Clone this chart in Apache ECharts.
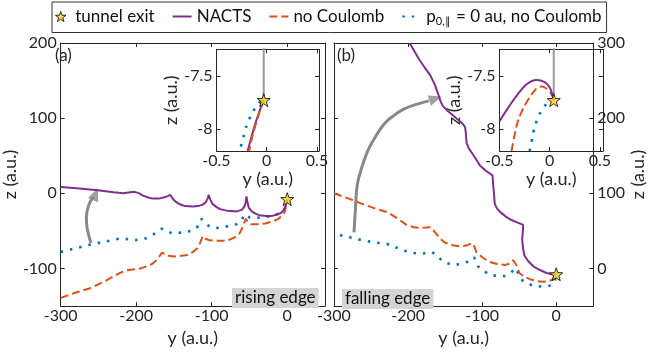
<!DOCTYPE html>
<html>
<head>
<meta charset="utf-8">
<script src="https://cdn.jsdelivr.net/npm/echarts@6/dist/echarts.min.js"></script>
<style>
  html, body { margin: 0; padding: 0; background: #fff; }
  #chart { width: 648px; height: 352px; }
</style>
</head>
<body>
<div id="chart"></div>
<script>
// ---- data: [y, z] in a.u. ----
// panel (a): rising edge
const nactsA = [[-300, 8.5], [-275, 6.5], [-251, 4.2], [-230, 1.5], [-217, 0], [-208, 1.5], [-202, 2], [-196, 0], [-191, -3], [-184, -5.5], [-178, -7], [-170, -7], [-164, -5.5], [-159, -4], [-155, -2], [-153, -5], [-150, -9], [-145, -13], [-140, -15.5], [-135, -17], [-125, -17.5], [-118, -17], [-112, -15], [-108, -12], [-105, -6], [-104, -2], [-102, -8], [-99, -14], [-94, -18], [-89, -21], [-80, -23], [-67, -24], [-60, -22], [-57, -18], [-55, -12], [-54, -4], [-53, -10], [-51, -19], [-47, -24], [-42, -27], [-37, -29], [-28, -30], [-20, -30], [-14, -28.5], [-8, -26], [-4, -21], [-1.5, -15], [0, -8]];
const noCoulA = [[-300, -139], [-280, -132], [-260, -126], [-240, -116], [-222, -106], [-210, -102], [-196, -100.5], [-186, -97], [-179, -94], [-172, -88], [-168, -82], [-166, -79], [-162, -81], [-157, -83], [-150, -84], [-140, -83], [-132, -82], [-125, -78], [-119, -73], [-115, -65], [-112, -57], [-109, -60], [-104, -62], [-95, -63], [-80, -63], [-70, -59], [-63, -53], [-59, -45], [-55, -34], [-52, -38], [-48.5, -41], [-40, -41], [-29, -40], [-18, -37], [-12, -34], [-6, -29], [-3, -24], [0, -8]];
const p0A = [[-300, -78], [-280, -73], [-260, -68], [-240, -64], [-222, -60], [-210, -61], [-200, -62], [-190, -61], [-183, -58], [-175, -53], [-170, -49], [-166, -47], [-160, -50], [-153, -53], [-148, -53], [-138, -52], [-127, -50], [-120, -46], [-116, -40], [-114, -34], [-110, -37], [-106, -42], [-101, -45], [-93, -46], [-85, -45], [-75, -43], [-67, -41], [-62, -38], [-59, -33], [-57, -28], [-54, -30], [-50, -32], [-40, -32.5], [-33, -32], [-20, -30], [-8, -26], [-3, -20], [0, -8]];
const arrowA = [[-260, -66], [-265, -46], [-266, -32], [-263, -16], [-257, -5]];
const arrowTipA = [-254, -1];

// panel (b): falling edge
const nactsB = [[-198, 300], [-192, 290], [-185, 278], [-178, 268], [-170, 257], [-164, 245], [-159, 231], [-156, 222], [-153, 216], [-148, 211], [-142, 206], [-135, 200], [-129, 195], [-125, 191], [-123, 188], [-122, 180], [-121, 167], [-118, 160], [-114, 154], [-108, 145], [-103, 137], [-95, 130], [-86, 124], [-85, 110], [-84, 100], [-83, 86], [-80, 80], [-75.5, 75], [-68, 69], [-60.5, 64.5], [-52, 61], [-44.6, 58], [-45, 50], [-46, 39], [-45, 28], [-43, 17.5], [-38, 10], [-30.5, 2.6], [-22, -2], [-13, -6], [-6, -7.5], [0, -8]];
const noCoulB = [[-300, 100], [-280, 93], [-262, 86], [-245, 80], [-228, 75], [-215, 67], [-202, 58], [-192, 55], [-185, 54], [-176, 54.5], [-170, 55], [-167, 52], [-163, 47.4], [-157, 40], [-150.6, 34.6], [-140, 31], [-129, 29.5], [-120, 31], [-114, 33.7], [-111, 30], [-107.7, 21.8], [-100, 15], [-90.5, 9], [-80, 6], [-69, 4.7], [-62, 7], [-58, 11], [-56, 13], [-53, 3], [-49.8, -6], [-43, -11], [-34.7, -14.5], [-25, -17], [-17.6, -17.5], [-10, -17], [-4.8, -14.5], [0, -8]];
const p0B = [[-292, 44.5], [-275, 40.5], [-258, 36.8], [-243, 34.5], [-228, 32.5], [-216, 28], [-206, 24], [-195, 21], [-185, 19.6], [-175, 20.5], [-168, 22], [-165.6, 23], [-160, 17], [-155, 11], [-147, 7], [-138, 4.7], [-128, 6], [-120, 9], [-114, 13], [-111, 15], [-108, 9], [-105.5, 2.6], [-98, -3], [-90.5, -8], [-80, -10], [-69, -10], [-62, -6], [-57, -2], [-54, 0.4], [-51, -8], [-47.6, -14.5], [-40, -19.5], [-30.5, -23], [-20, -24], [-13, -24], [-6, -22], [-2.6, -19], [0, -8]];
const arrowB = [[-273, 48], [-271, 80], [-268.6, 111.5], [-262, 136], [-253.5, 158.6], [-243, 177], [-232, 192.7], [-220, 203], [-206, 212], [-190, 218], [-172, 223]];
const arrowTipB = [-163, 226];

const exitMain = [0, -7.7];

// insets (zoom at the tunnel exit)
const gateA = [[-0.03, -7.2], [-0.03, -7.73]];
const nactsInA = [[-0.03, -7.73], [-0.07, -7.83], [-0.11, -7.94], [-0.15, -8.07], [-0.19, -8.21]];
const noCoulInA = [[-0.03, -7.73], [-0.065, -7.82], [-0.1, -7.93], [-0.14, -8.06], [-0.175, -8.21]];
const p0InA = [[-0.06, -7.74], [-0.09, -7.77], [-0.15, -7.86], [-0.2, -7.97], [-0.23, -8.07], [-0.27, -8.21]];
const exitInA = [-0.03, -7.73];

const gateB = [[0.04, -7.2], [0.04, -7.73]];
const nactsInB = [[-0.5, -7.93], [-0.42, -7.81], [-0.33, -7.69], [-0.23, -7.58], [-0.13, -7.54], [-0.05, -7.56], [0.0, -7.61], [0.02, -7.66], [0.04, -7.73]];
const noCoulInB = [[-0.38, -8.21], [-0.35, -8.06], [-0.32, -7.94], [-0.28, -7.84], [-0.23, -7.75], [-0.15, -7.64], [-0.08, -7.6], [-0.02, -7.63], [0.02, -7.68], [0.04, -7.73]];
const p0InB = [[-0.2, -8.21], [-0.17, -8.07], [-0.15, -7.98], [-0.1, -7.86], [-0.03, -7.76], [0.02, -7.72]];
const exitInB = [0.04, -7.73];

// ticks
const mainXTicks = [-300, -200, -100, 0];
const mainYTicksA = [-100, 0, 100, 200];
const mainYTicksB = [0, 100, 200, 300];
const insetXTicks = [-0.5, 0, 0.5];
const insetYTicks = [-8, -7.5];

const N_EXIT = "tunnel exit";
const N_NACTS = "NACTS";
const N_NOC = "no Coulomb";
const N_P0 = "p0,∥ = 0 au, no Coulomb";

// ---- styles ----
const FONT = "Lato, sans-serif";
const INK = "#262626";
const PURPLE = "#7E2F8E";
const ORANGE = "#D95319";
const BLUE = "#0072BD";
const GOLD = "#FFD21F";
const STAR = "path://M0,-10L2.35,-3.24L9.51,-3.09L3.8,1.24L5.88,8.09L0,4L-5.88,8.09L-3.8,1.24L-9.51,-3.09L-2.35,-3.24Z";

function axis(kind, gridIndex, position, min, max, ticks, labels, extra) {
  return Object.assign({
    type: "value",
    gridIndex,
    position,
    min,
    max,
    axisLine: { show: true, onZero: false, lineStyle: { color: INK, width: 1 } },
    axisTick: { show: true, inside: true, length: 4, customValues: ticks, lineStyle: { color: INK } },
    axisLabel: {
      show: labels,
      customValues: ticks,
      color: INK,
      fontFamily: FONT,
      fontSize: 16,
      margin: kind === "x" ? 2 : 4,
    },
    splitLine: { show: false },
    nameLocation: "middle",
    nameTextStyle: { color: INK, fontFamily: FONT, fontSize: 18 },
  }, extra || {});
}

const grids = [
  { left: 52, right: 323, top: 43, bottom: 36 },
  { left: 334, right: 41, top: 43, bottom: 36 },
  { left: 216.5, right: 329, top: 49.3, bottom: 201, show: true, backgroundColor: "#fff", borderWidth: 0 },
  { left: 499.5, right: 45, top: 49.3, bottom: 201, show: true, backgroundColor: "#fff", borderWidth: 0 },
];

const xAxes = [
  axis("x", 0, "bottom", -300, 50, mainXTicks, true, { name: "y (a.u.)", nameGap: 17 }),
  axis("x", 0, "top", -300, 50, mainXTicks, false),
  axis("x", 1, "bottom", -300, 50, mainXTicks, true, { name: "y (a.u.)", nameGap: 17 }),
  axis("x", 1, "top", -300, 50, mainXTicks, false),
  axis("x", 2, "bottom", -0.5, 0.52, insetXTicks, true, { name: "y (a.u.)", nameGap: 15 }),
  axis("x", 2, "top", -0.5, 0.52, insetXTicks, false),
  axis("x", 3, "bottom", -0.5, 0.53, insetXTicks, true, { name: "y (a.u.)", nameGap: 15 }),
  axis("x", 3, "top", -0.5, 0.53, insetXTicks, false),
];

const yAxes = [
  axis("y", 0, "left", -150, 200, mainYTicksA, true, { name: "z (a.u.)", nameGap: 28, nameRotate: 90 }),
  axis("y", 0, "right", -150, 200, mainYTicksA, false),
  axis("y", 1, "right", -50, 300, mainYTicksB, true, { name: "z (a.u.)", nameGap: 25, nameRotate: 90 }),
  axis("y", 1, "left", -50, 300, mainYTicksB, false),
  axis("y", 2, "left", -8.21, -7.25, insetYTicks, true, { name: "z (a.u.)", nameGap: 20, nameRotate: 90 }),
  axis("y", 2, "right", -8.21, -7.25, insetYTicks, false),
  axis("y", 3, "left", -8.21, -7.25, insetYTicks, true, { name: "z (a.u.)", nameGap: 20, nameRotate: 90 }),
  axis("y", 3, "right", -8.21, -7.25, insetYTicks, false),
];

// x axis index / y axis index per grid
const AX = [[0, 0], [2, 2], [4, 4], [6, 6]];

function line(name, g, data, color, type, width, extra) {
  return Object.assign({
    name,
    type: "line",
    xAxisIndex: AX[g][0],
    yAxisIndex: AX[g][1],
    data,
    symbol: "none",
    smooth: false,
    lineStyle: { color, width, type },
    itemStyle: { color },
    emphasis: { disabled: true },
    animation: false,
  }, extra || {});
}

function exitStar(g, point, size) {
  return {
    name: N_EXIT,
    type: "scatter",
    xAxisIndex: AX[g][0],
    yAxisIndex: AX[g][1],
    data: [point],
    symbol: STAR,
    symbolSize: size,
    itemStyle: { color: GOLD, borderColor: "#000", borderWidth: 1 },
    z: 10,
    animation: false,
  };
}

function arrowHead(g, point, rotate) {
  return {
    type: "scatter",
    xAxisIndex: AX[g][0],
    yAxisIndex: AX[g][1],
    data: [point],
    symbol: "triangle",
    symbolSize: [11, 13],
    symbolRotate: rotate,
    itemStyle: { color: "#888" },
    silent: true,
    animation: false,
  };
}

const DASH = [8, 4];
const DOT = [2.5, 7];

const series = [
  // panel (a)
  line("arrowA", 0, arrowA, "#888", "solid", 3, { smooth: 0.4 }),
  arrowHead(0, arrowTipA, -22),
  line(N_P0, 0, p0A, BLUE, DOT, 2.6),
  line(N_NOC, 0, noCoulA, ORANGE, DASH, 2),
  line(N_NACTS, 0, nactsA, PURPLE, "solid", 2),
  exitStar(0, exitMain, 13),
  // panel (b)
  line("arrowB", 1, arrowB, "#888", "solid", 3, { smooth: 0.4 }),
  arrowHead(1, arrowTipB, -72),
  line(N_P0, 1, p0B, BLUE, DOT, 2.6),
  line(N_NOC, 1, noCoulB, ORANGE, DASH, 2),
  line(N_NACTS, 1, nactsB, PURPLE, "solid", 2),
  exitStar(1, exitMain, 13),
  // inset (a)
  line("gateA", 2, gateA, "#999", "solid", 2),
  line(N_P0, 2, p0InA, BLUE, DOT, 2.6, { smooth: 0.3 }),
  line(N_NACTS, 2, nactsInA, PURPLE, "solid", 2, { smooth: 0.3 }),
  line(N_NOC, 2, noCoulInA, ORANGE, DASH, 2, { smooth: 0.3 }),
  exitStar(2, exitInA, 13),
  // inset (b)
  line("gateB", 3, gateB, "#999", "solid", 2),
  line(N_P0, 3, p0InB, BLUE, DOT, 2.6, { smooth: 0.3 }),
  line(N_NOC, 3, noCoulInB, ORANGE, DASH, 2, { smooth: 0.4 }),
  line(N_NACTS, 3, nactsInB, PURPLE, "solid", 2, { smooth: 0.4 }),
  exitStar(3, exitInB, 13),
];

const labelBox = (text, left, top) => ({
  text,
  left,
  top,
  padding: [0, 3, 0, 3],
  backgroundColor: "#d4d4d4",
  textStyle: { color: "#111", fontFamily: FONT, fontSize: 17, fontWeight: "normal", lineHeight: 20 },
});

// line entries in the legend: hide the marker that echarts puts on the line icon
const lineEntry = (name) => ({ name, itemStyle: { opacity: 0 } });

const option = {
  animation: false,
  grid: grids,
  xAxis: xAxes,
  yAxis: yAxes,
  title: [
    { text: "(a)", left: 55, top: 47, padding: 0, textStyle: { color: INK, fontFamily: FONT, fontSize: 17, fontWeight: "normal" } },
    { text: "(b)", left: 337, top: 47, padding: 0, textStyle: { color: INK, fontFamily: FONT, fontSize: 17, fontWeight: "normal" } },
    labelBox("rising edge", 232, 288),
    labelBox("falling edge", 342, 289),
  ],
  legend: {
    left: 52,
    top: 2,
    padding: [6, 5, 6, 3],
    itemGap: 17,
    itemWidth: 19,
    itemHeight: 10,
    borderColor: "#333",
    borderWidth: 1,
    backgroundColor: "#fff",
    selectedMode: false,
    data: [
      { name: N_EXIT, icon: STAR, itemStyle: { color: GOLD, borderColor: "#000", borderWidth: 1 } },
      lineEntry(N_NACTS),
      lineEntry(N_NOC),
      lineEntry(N_P0),
    ],
    formatter: (name) => name === N_P0
      ? "{t|p}{s|0,∥}{t| = 0 au, no Coulomb}"
      : "{t|" + name + "}",
    textStyle: {
      color: "#111",
      fontFamily: FONT,
      fontSize: 17,
      rich: {
        t: { fontFamily: FONT, fontSize: 17, color: "#111", lineHeight: 20, verticalAlign: "middle" },
        s: { fontFamily: FONT, fontSize: 11, color: "#111", lineHeight: 20, verticalAlign: "bottom", padding: [0, 1, 0, 0] },
      },
    },
  },
  series,
};

const chart = echarts.init(document.getElementById("chart"), null, { renderer: "canvas" });
chart.setOption(option);
</script>
</body>
</html>
